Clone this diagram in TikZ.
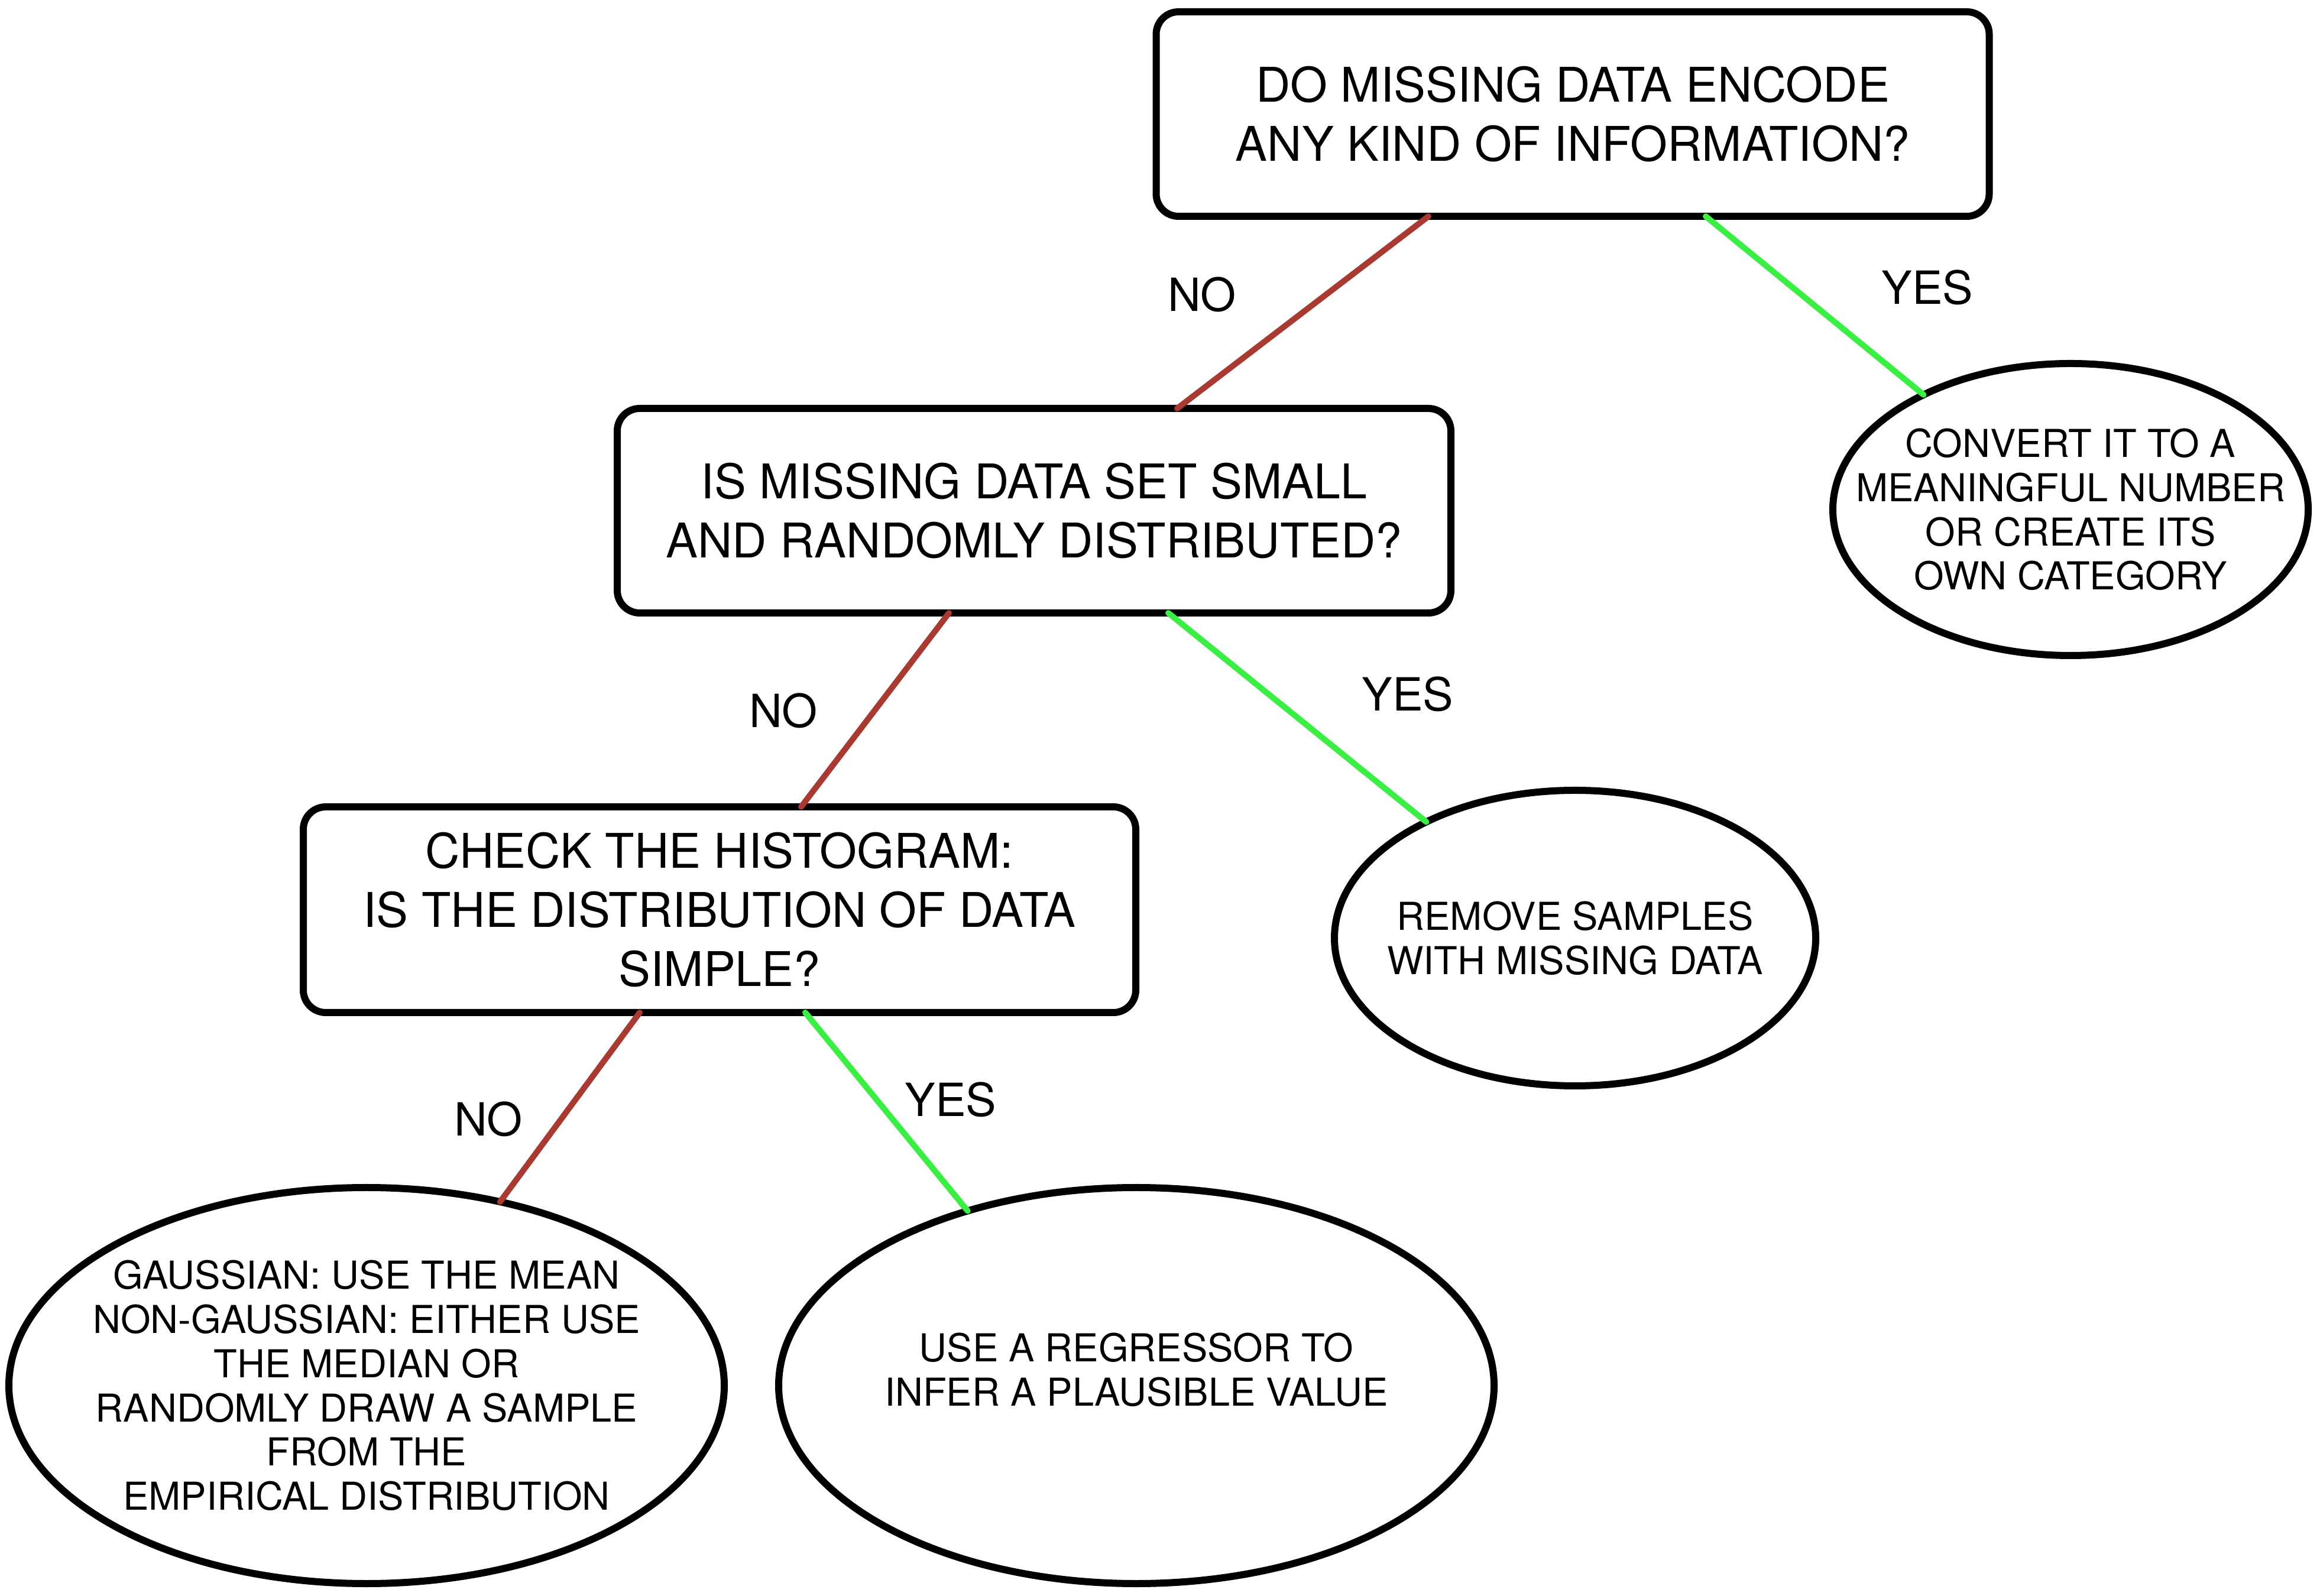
\documentclass[tikz,border=0pt]{standalone}
\usepackage{fontspec}
\setmainfont{TeX Gyre Heros}
\usepackage{tikz}
\usetikzlibrary{positioning, shapes.geometric}
\definecolor{rojono}{RGB}{168,58,50}
\definecolor{verdesi}{RGB}{58,238,68}
\tikzset{pregunta/.style={draw, rounded corners=0.38cm, line width=0.12cm, outer sep=0pt, align=center, inner sep=0pt, font=\fontsize{23}{28.5}\selectfont}}
\tikzset{accion/.style={draw, ellipse, line width=0.12cm, outer sep=0pt, align=center, inner sep=-0.8cm, font=\fontsize{18.5}{21.3}\selectfont}}
\tikzset{ramano/.style={line width=0.1cm, line cap=round, draw=rojono}}
\tikzset{ramasi/.style={line width=0.1cm, line cap=round, draw=verdesi}}
\tikzset{etiqueta/.style={font=\fontsize{22}{26}\selectfont}}

\begin{document}
\begin{tikzpicture}
            \useasboundingbox (0,0) rectangle (39.24,26.99);
            \node[pregunta, minimum width=14.09cm, minimum height=3.46cm] (top) at (26.60,25.06) {DO MISSING DATA ENCODE\\ANY KIND OF INFORMATION?};
            \node[pregunta, minimum width=14.10cm, minimum height=3.46cm, below=3.25cm of top, xshift=-9.11cm] (second) {IS MISSING DATA SET SMALL\\AND RANDOMLY DISTRIBUTED?};
            \node[pregunta, minimum width=14.08cm, minimum height=3.48cm, below=3.28cm of second, xshift=-5.32cm] (third) {CHECK THE HISTOGRAM:\\IS THE DISTRIBUTION OF DATA\\SIMPLE?};

            \node[accion, minimum width=8.04cm, minimum height=4.94cm] (convert) at (35.02,18.37) {CONVERT IT TO A\\MEANINGFUL NUMBER\\OR CREATE ITS\\OWN CATEGORY};
            \node[accion, minimum width=8.14cm, minimum height=5.00cm] (remove) at (26.64,11.12) {REMOVE SAMPLES\\WITH MISSING DATA};
            \node[accion, minimum width=12.10cm, minimum height=6.70cm] (gauss) at (6.20,3.55) {GAUSSIAN: USE THE MEAN\\NON-GAUSSIAN: EITHER USE\\THE MEDIAN OR\\RANDOMLY DRAW A SAMPLE\\FROM THE\\EMPIRICAL DISTRIBUTION};
            \node[accion, minimum width=12.10cm, minimum height=6.70cm, text depth=0.55cm] (regr) at (19.22,3.55) {USE A REGRESSOR TO\\INFER A PLAUSIBLE VALUE};

            \draw[ramano] ([xshift=-2.44cm]top.south) to ([xshift=2.42cm]second.north);
            \draw[ramasi] ([xshift=2.25cm]top.south) to (convert.142);
            \draw[ramano] ([xshift=-1.44cm]second.south) to ([xshift=1.38cm]third.north);
            \draw[ramasi] ([xshift=2.27cm]second.south) to (remove.142);
            \draw[ramano] ([xshift=-1.35cm]third.south) to (gauss.54);
            \draw[ramasi] ([xshift=1.45cm]third.south) to (regr.134);

            \node[etiqueta] (no1) at (20.33,22.01) {NO};
            \node[etiqueta] (si1) at (32.60,22.13) {YES};
            \node[etiqueta] (no2) at (13.25,14.97) {NO};
            \node[etiqueta] (si2) at (23.81,15.25) {YES};
            \node[etiqueta] (no3) at (8.26,8.06) {NO};
            \node[etiqueta] (si3) at (16.08,8.39) {YES};
        \end{tikzpicture}
\end{document}
